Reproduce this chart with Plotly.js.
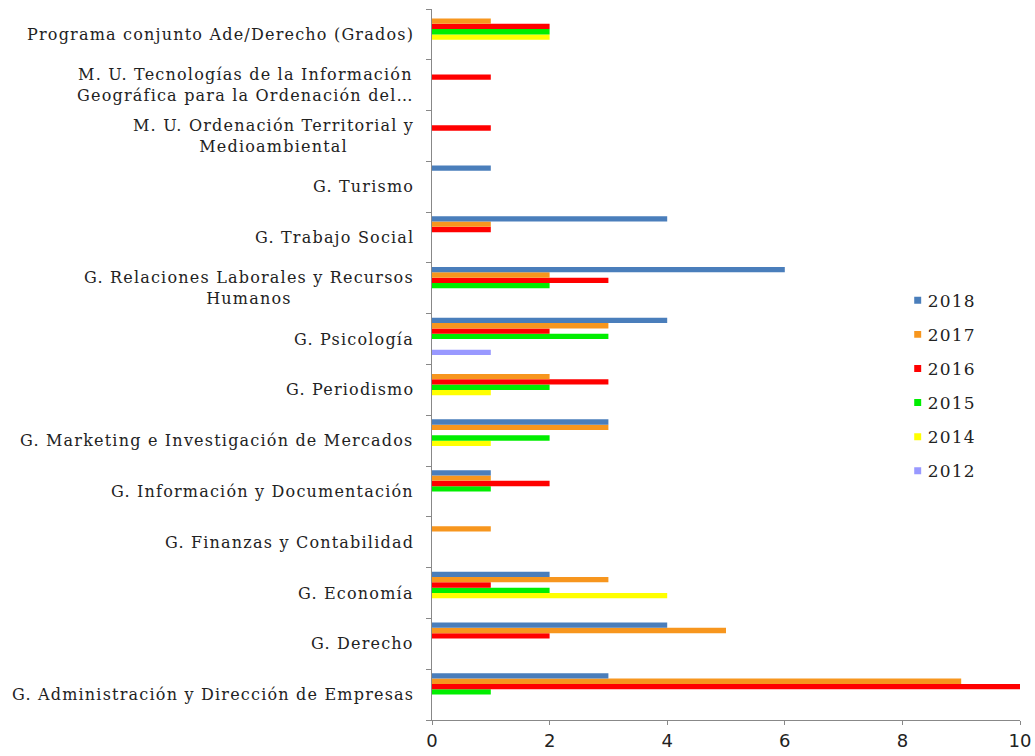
<!DOCTYPE html>
<html>
<head>
<meta charset="utf-8">
<script src="https://cdn.plot.ly/plotly-3.0.1.min.js"></script>
<style>
html,body{margin:0;padding:0;background:#fff;}
#chart{width:1035px;height:756px;}
.annotation-text{letter-spacing:1.2px;}
.legendtext{letter-spacing:1.2px;}
.legendpoints path{transform:translate(30px,0px) scale(0.58);}
</style>
</head>
<body>
<div id="chart"></div>
<script>
// Categories, bottom to top
const categories = [
  "G. Administración y Dirección de Empresas",
  "G. Derecho",
  "G. Economía",
  "G. Finanzas y Contabilidad",
  "G. Información y Documentación",
  "G. Marketing e Investigación de Mercados",
  "G. Periodismo",
  "G. Psicología",
  "G. Relaciones Laborales y Recursos Humanos",
  "G. Trabajo Social",
  "G. Turismo",
  "M. U. Ordenación Territorial y Medioambiental",
  "M. U. Tecnologías de la Información Geográfica",
  "Programa conjunto Ade/Derecho (Grados)"
];
const categoryLabels = [
  "G. Administración y Dirección de Empresas",
  "G. Derecho",
  "G. Economía",
  "G. Finanzas y Contabilidad",
  "G. Información y Documentación",
  "G. Marketing e Investigación de Mercados",
  "G. Periodismo",
  "G. Psicología",
  "G. Relaciones Laborales y Recursos<br>Humanos",
  "G. Trabajo Social",
  "G. Turismo",
  "M. U. Ordenación Territorial y<br>Medioambiental",
  "M. U. Tecnologías de la Información<br>Geográfica para la Ordenación del…",
  "Programa conjunto Ade/Derecho (Grados)"
];
const v2018 = [3, 4, 2, null, 1, 3, null, 4, 6, 4, 1, null, null, null];
const v2017 = [9, 5, 3, 1, 1, 3, 2, 3, 2, 1, null, null, null, 1];
const v2016 = [10, 2, 1, null, 2, null, 3, 2, 3, 1, null, 1, 1, 2];
const v2015 = [1, null, 2, null, 1, 2, 2, 3, 2, null, null, null, null, 2];
const v2014 = [null, null, 4, null, null, 1, 1, null, null, null, null, null, null, 2];
const v2013 = [0, 0, 0, 0, 0, 0, 0, 0, 0, 0, 0, 0, 0, 0];
const v2012 = [null, null, null, null, null, null, null, 1, null, null, null, null, null, null];
const v2011 = [0, 0, 0, 0, 0, 0, 0, 0, 0, 0, 0, 0, 0, 0];
const xTicks = [0, 2, 4, 6, 8, 10];

// series from bottom slot to top slot
const series = [
  {name: "2011", values: v2011, color: "rgba(0,0,0,0)", legend: false, rank: 8},
  {name: "2012", values: v2012, color: "#9999ff", legend: true, rank: 6},
  {name: "2013", values: v2013, color: "rgba(0,0,0,0)", legend: false, rank: 7},
  {name: "2014", values: v2014, color: "#ffff00", legend: true, rank: 5},
  {name: "2015", values: v2015, color: "#00ee00", legend: true, rank: 4},
  {name: "2016", values: v2016, color: "#ff0000", legend: true, rank: 3},
  {name: "2017", values: v2017, color: "#f7961e", legend: true, rank: 2},
  {name: "2018", values: v2018, color: "#4a7ebb", legend: true, rank: 1}
];

const traces = series.map(s => ({
  type: "bar",
  orientation: "h",
  name: s.name,
  y: categories,
  x: s.values,
  marker: {color: s.color, line: {width: 0}},
  showlegend: s.legend,
  legendgroup: s.name,
  legendrank: s.rank,
  hoverinfo: s.legend ? "x+name" : "skip"
}));

const annotations = categories.map((c, i) => ({
  xref: "paper", yref: "y",
  x: 0, y: c,
  xanchor: "right", yanchor: "middle",
  xshift: -16,
  align: "center",
  showarrow: false,
  text: categoryLabels[i],
  font: {family: "DejaVu Serif", size: 16, color: "#222"}
}));

const layout = {
  width: 1035, height: 756,
  margin: {l: 432, r: 15, t: 9, b: 36},
  paper_bgcolor: "#fff", plot_bgcolor: "#fff",
  barmode: "group",
  bargap: 0.16,
  bargroupgap: 0,
  showlegend: true,
  legend: {
    x: 0.775, y: 0.615, xanchor: "left", yanchor: "top",
    traceorder: "grouped",
    tracegroupgap: 9,
    font: {family: "DejaVu Serif", size: 17, color: "#222"},
    bgcolor: "rgba(0,0,0,0)"
  },
  xaxis: {
    range: [0, 10],
    tickvals: xTicks,
    ticktext: xTicks.map(String),
    showgrid: false, zeroline: false,
    showline: true, linecolor: "#888", linewidth: 1,
    ticks: "outside", ticklen: 4, tickcolor: "#888",
    tickfont: {family: "DejaVu Sans", size: 18, color: "#222"},
    fixedrange: true
  },
  yaxis: {
    type: "category",
    categoryorder: "array", categoryarray: categories,
    range: [-0.5, 13.5],
    showticklabels: false,
    tickson: "boundaries",
    ticks: "outside", ticklen: 5, tickcolor: "#888",
    showgrid: false, zeroline: false,
    showline: true, linecolor: "#888", linewidth: 1,
    fixedrange: true
  },
  annotations: annotations
};

Plotly.newPlot("chart", traces, layout, {displayModeBar: false, staticPlot: true});
</script>
</body>
</html>
